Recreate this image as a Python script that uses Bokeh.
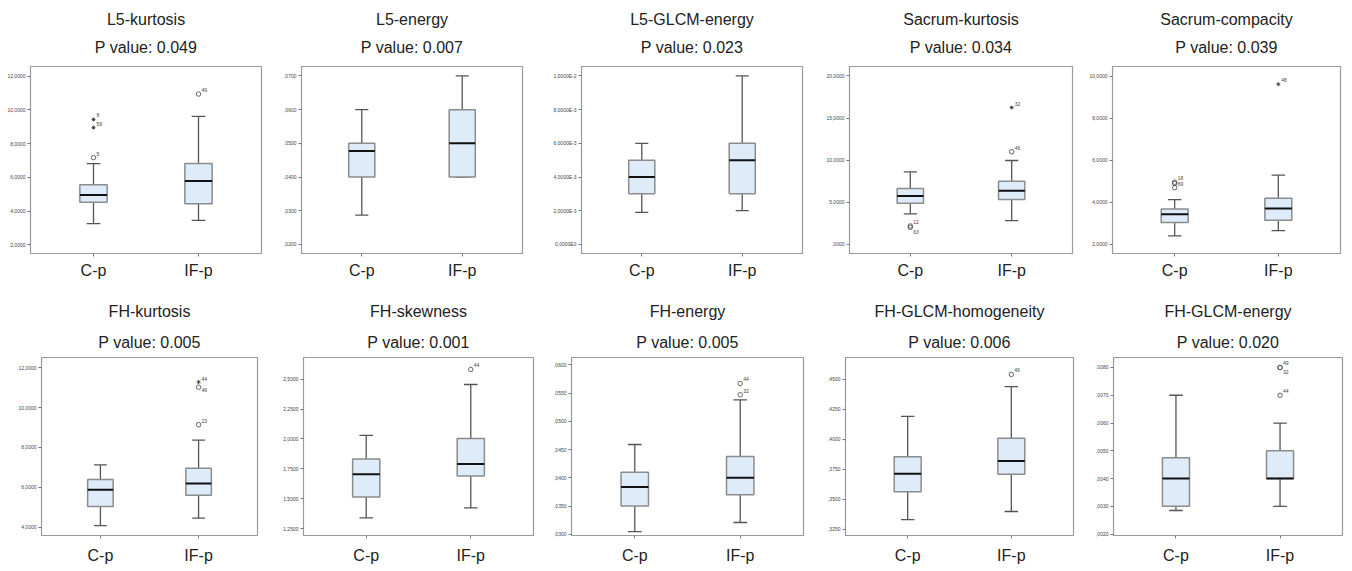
from bokeh.plotting import figure
from bokeh.layouts import column, row
from bokeh.models import Title, FixedTicker, ColumnDataSource
from bokeh.embed import file_html
from bokeh.resources import INLINE
from bokeh.core.properties import value

# ---------------- data ----------------
names = ["L5-kurtosis", "L5-energy", "L5-GLCM-energy", "Sacrum-kurtosis", "Sacrum-compacity",
         "FH-kurtosis", "FH-skewness", "FH-energy", "FH-GLCM-homogeneity", "FH-GLCM-energy"]
p_values = ["0.049", "0.007", "0.023", "0.034", "0.039",
            "0.005", "0.001", "0.005", "0.006", "0.020"]
groups = ["C-p", "IF-p"]

# [whisker_low, q1, median, q3, whisker_high]
cp_stats = [
    [3.26, 4.53, 4.95, 5.56, 6.81],
    [0.0287, 0.040, 0.0477, 0.050, 0.060],
    [0.0019, 0.003, 0.004, 0.005, 0.006],
    [3.63, 4.90, 5.74, 6.65, 8.61],
    [2.41, 3.04, 3.44, 3.68, 4.13],
    [4.08, 5.04, 5.87, 6.39, 7.12],
    [1.339, 1.514, 1.704, 1.832, 2.03],
    [0.0305, 0.035, 0.0384, 0.041, 0.0459],
    [0.3333, 0.3564, 0.3715, 0.3856, 0.4192],
    [0.00285, 0.003, 0.004, 0.00475, 0.007],
]
ifp_stats = [
    [3.45, 4.44, 5.79, 6.83, 9.62],
    [0.040, 0.040, 0.050, 0.060, 0.070],
    [0.002, 0.003, 0.005, 0.006, 0.010],
    [2.83, 5.34, 6.37, 7.49, 9.96],
    [2.66, 3.15, 3.71, 4.20, 5.30],
    [4.45, 5.60, 6.19, 6.95, 8.36],
    [1.423, 1.69, 1.79, 2.004, 2.455],
    [0.0321, 0.037, 0.040, 0.0438, 0.0538],
    [0.340, 0.371, 0.382, 0.401, 0.444],
    [0.003, 0.004, 0.004, 0.005, 0.006],
]

# outliers
out_panel = [0, 0, 0, 0, 3, 3, 3, 3, 4, 4, 4, 4, 5, 5, 5, 6, 7, 7, 8, 9, 9, 9]
out_group = [1, 1, 1, 2, 1, 1, 2, 2, 1, 1, 1, 2, 2, 2, 2, 2, 2, 2, 2, 2, 2, 2]
out_value = [7.17, 9.43, 8.95, 10.94, 2.19, 2.03, 16.25, 11.0, 4.96, 4.90, 4.70, 9.62,
             9.14, 11.02, 11.28, 2.581, 0.0567, 0.0547, 0.4541, 0.008, 0.008, 0.007]
out_symbol = ["o", "*", "*", "o", "o", "o", "*", "o", "o", "o", "o", "*",
              "o", "o", "*", "o", "o", "o", "o", "o", "o", "o"]
out_label = ["5", "8", "59", "49", "12", "63", "32", "46", "18", "69", "", "48",
             "23", "46", "44", "44", "44", "32", "49", "49", "32", "44"]

yticks = [
    [2, 4, 6, 8, 10, 12],
    [0.02, 0.03, 0.04, 0.05, 0.06, 0.07],
    [0.0, 0.002, 0.004, 0.006, 0.008, 0.010],
    [0, 5, 10, 15, 20],
    [2, 4, 6, 8, 10],
    [4, 6, 8, 10, 12],
    [1.25, 1.5, 1.75, 2.0, 2.25, 2.5],
    [0.03, 0.035, 0.04, 0.045, 0.05, 0.055, 0.06],
    [0.325, 0.35, 0.375, 0.40, 0.425, 0.45],
    [0.002, 0.003, 0.004, 0.005, 0.006, 0.007, 0.008],
]
ytick_labels = [
    ["2,0000", "4,0000", "6,0000", "8,0000", "10,0000", "12,0000"],
    [",0200", ",0300", ",0400", ",0500", ",0600", ",0700"],
    ["0,0000E0", "2,0000E-3", "4,0000E-3", "6,0000E-3", "8,0000E-3", "1,0000E-2"],
    [",0000", "5,0000", "10,0000", "15,0000", "20,0000"],
    ["2,0000", "4,0000", "6,0000", "8,0000", "10,0000"],
    ["4,0000", "6,0000", "8,0000", "10,0000", "12,0000"],
    ["1,2500", "1,5000", "1,7500", "2,0000", "2,2500", "2,5000"],
    [",0300", ",0350", ",0400", ",0450", ",0500", ",0550", ",0600"],
    [",3250", ",3500", ",3750", ",4000", ",4250", ",4500"],
    [",0020", ",0030", ",0040", ",0050", ",0060", ",0070", ",0080"],
]
yranges = [(1.49, 12.57), (0.0173, 0.0728), (-0.00054, 0.01056), (-1.08, 21.12), (1.57, 10.46),
           (3.58, 12.51), (1.192, 2.681), (0.0298, 0.0613), (0.320, 0.4682), (0.00195, 0.00836)]

# ---------------- style / layout ----------------
label_dy = [-4, -4, -4, -4, -4, 5, -4, -4, -4, 1, 0, -4,
            -4, 3, -3, -4, -4, -4, -4, -4, 5, -4]
FONT = "Liberation Sans"
BOX_FILL = "#DEEBF8"
GRAY = "#9a9a9a"

top_w = [280, 270, 273, 263, 266]
top_l = [30, 18, 28, 21, 22]
top_r = [19, 28, 21, 14, 12]
bot_w = [280, 270, 274, 268, 260]
bot_l = [41, 23, 20, 21, 20]
bot_r = [23, 17, 21, 19, 10]


def make_fig(i, width, height, L, R, T, B, pv_standoff, name_standoff, x_standoff):
    p = figure(width=width, height=height, x_range=(0.4, 2.6), y_range=yranges[i],
               output_backend="svg", toolbar_location=None,
               min_border_left=L, min_border_right=R, min_border_top=T, min_border_bottom=B)
    p.background_fill_color = "white"
    p.border_fill_color = "white"
    p.xgrid.visible = False
    p.ygrid.visible = False
    p.outline_line_color = GRAY
    p.outline_line_width = 1.2

    p.add_layout(Title(text="P value: " + p_values[i], align="center", text_font_size="16px",
                       text_font=FONT, text_font_style="normal", text_color="#222",
                       standoff=pv_standoff), "above")
    p.add_layout(Title(text=names[i], align="center", text_font_size="16px",
                       text_font=FONT, text_font_style="normal", text_color="#222",
                       standoff=name_standoff), "above")

    xs = [1, 2]
    st = [cp_stats[i], ifp_stats[i]]
    src = ColumnDataSource(dict(
        x=xs,
        low=[s[0] for s in st], q1=[s[1] for s in st], med=[s[2] for s in st],
        q3=[s[3] for s in st], high=[s[4] for s in st],
        xl=[x - 0.13 for x in xs], xr=[x + 0.13 for x in xs],
        cl=[x - 0.065 for x in xs], cr=[x + 0.065 for x in xs],
    ))
    p.segment(x0="x", x1="x", y0="q3", y1="high", source=src, line_color="#555", line_width=1.3)
    p.segment(x0="x", x1="x", y0="q1", y1="low", source=src, line_color="#555", line_width=1.3)
    p.segment(x0="cl", x1="cr", y0="high", y1="high", source=src, line_color="#555", line_width=1.3)
    p.segment(x0="cl", x1="cr", y0="low", y1="low", source=src, line_color="#555", line_width=1.3)
    p.vbar(x="x", width=0.26, bottom="q1", top="q3", source=src,
           fill_color=BOX_FILL, line_color="#8c8c8c", line_width=1.5)
    p.segment(x0="xl", x1="xr", y0="med", y1="med", source=src, line_color="#111", line_width=2)

    idx = [k for k in range(len(out_panel)) if out_panel[k] == i]
    if idx:
        circ = [k for k in idx if out_symbol[k] == "o"]
        star = [k for k in idx if out_symbol[k] == "*"]
        if circ:
            p.scatter(x=[out_group[k] for k in circ], y=[out_value[k] for k in circ],
                      marker="circle", size=4.5, fill_color=None, line_color="#555", line_width=0.9)
        if star:
            p.scatter(x=[out_group[k] for k in star], y=[out_value[k] for k in star],
                      marker="asterisk", size=4, line_color="#333", line_width=0.8)
        lab = ColumnDataSource(dict(x=[out_group[k] for k in idx], y=[out_value[k] for k in idx],
                                    t=[out_label[k] for k in idx], dy=[label_dy[k] for k in idx]))
        p.text(x="x", y="y", text="t", y_offset="dy", x_offset=3, source=lab,
               text_font_size="5px", text_color="#444", text_baseline="middle",
               text_font=value(FONT))

    ya = p.yaxis[0]
    ya.ticker = FixedTicker(ticks=yticks[i])
    ya.major_label_overrides = dict(zip(yticks[i], ytick_labels[i]))
    ya.major_label_text_font_size = "5px"
    ya.major_label_text_color = "#444"
    ya.major_label_text_font = FONT
    ya.major_tick_out = 3
    ya.major_tick_in = 0
    ya.minor_tick_out = 0
    ya.minor_tick_in = 0
    ya.major_tick_line_color = "#777"
    ya.axis_line_color = GRAY
    ya.major_label_standoff = 2

    xa = p.xaxis[0]
    xa.ticker = FixedTicker(ticks=xs)
    xa.major_label_overrides = {1: groups[0], 2: groups[1]}
    xa.major_label_text_font_size = "16px"
    xa.major_label_text_font = FONT
    xa.major_label_text_color = "#222"
    xa.major_tick_out = 3
    xa.major_tick_in = 0
    xa.minor_tick_out = 0
    xa.minor_tick_in = 0
    xa.major_tick_line_color = "#777"
    xa.axis_line_color = GRAY
    xa.major_label_standoff = x_standoff
    return p


top = [make_fig(i, top_w[i], 290, top_l[i], top_r[i], 66, 37, 22, -4, 5) for i in range(5)]
bot = [make_fig(5 + i, bot_w[i], 281, bot_l[i], bot_r[i], 67, 36, 14, 10, 8) for i in range(5)]

layout = column(row(*top, spacing=0), row(*bot, spacing=0), spacing=0)
open("out.html", "w").write(file_html(layout, INLINE))
